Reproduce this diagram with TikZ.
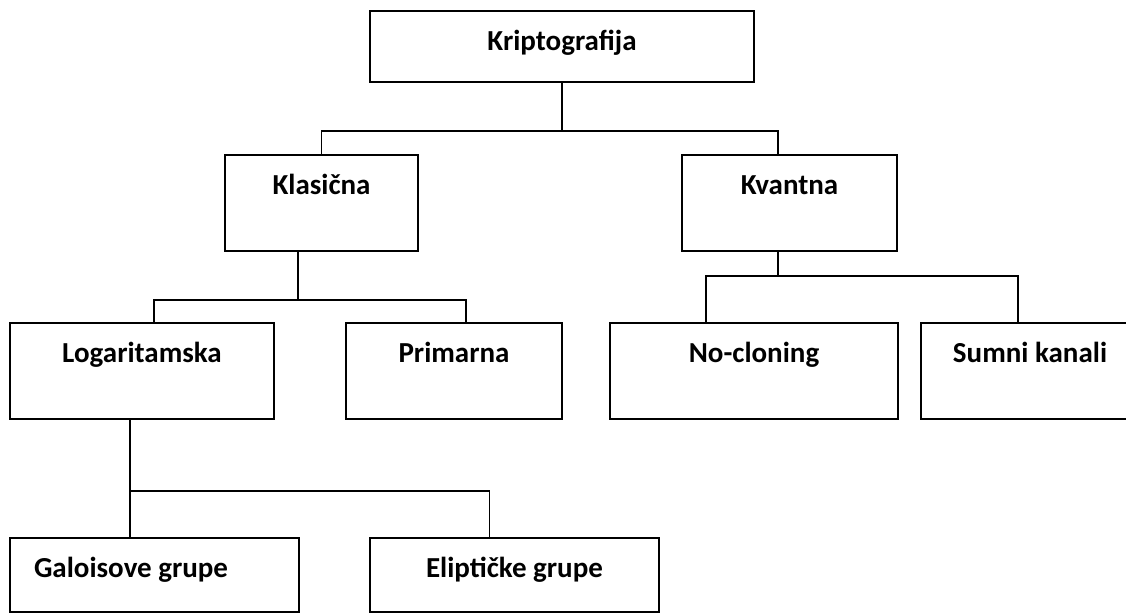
\documentclass[tikz,border=0pt]{standalone}
\usepackage{fontspec}
\setmainfont{Carlito}
\usetikzlibrary{calc}

\tikzset{
  box/.style={draw, line width=1.1pt, anchor=north, inner xsep=2pt, inner ysep=0pt,
    text height=0.80cm, text depth=1.12cm,
    font=\fontsize{16.5}{19}\selectfont\bfseries},
  lowbox/.style={box, text depth=0.68cm},
  topbox/.style={box, text depth=0.62cm},
  conn/.style={line width=1.1pt}
}

\begin{document}
\begin{tikzpicture}
\useasboundingbox (0,0) rectangle (22.52,-12.26);

% boxes
\node[topbox, minimum width=7.68cm] (kripto) at (11.24,-0.20) {Kriptografija};
\node[box, minimum width=3.86cm] (klas) at (6.43,-3.08) {Klasična};
\node[box, minimum width=4.30cm] (kvant) at (15.79,-3.08) {Kvantna};
\node[box, minimum width=5.28cm] (loga) at (2.84,-6.44) {Logaritamska};
\node[box, minimum width=4.32cm] (prim) at (9.08,-6.44) {Primarna};
\node[box, minimum width=5.76cm] (noclon) at (15.08,-6.44) {No-cloning};
\node[box, minimum width=4.36cm] (sumni) at (20.60,-6.44) {Sumni kanali};
\node[lowbox, inner xsep=0.48cm, text width=4.82cm, align=flush left] (galois) at (3.09,-10.74) {Galoisove grupe};
\node[lowbox, minimum width=5.78cm] (elip) at (10.29,-10.74) {Eliptičke grupe};

% connectors
\draw[conn] (kripto.south) -- ++(0,-0.97) coordinate (b1);
\draw[conn] (klas.north) |- (b1) -| ([xshift=-0.23cm]kvant.north);

\draw[conn] ([xshift=-0.47cm]klas.south) -- ++(0,-0.96) coordinate (b2);
\draw[conn] ([xshift=0.24cm]loga.north) |- (b2) -| ([xshift=0.24cm]prim.north);

\draw[conn] ([xshift=-0.23cm]kvant.south) -- ++(0,-0.48) coordinate (b3);
\draw[conn] ([xshift=-0.96cm]noclon.north) |- (b3) -| ([xshift=-0.24cm]sumni.north);

\draw[conn] ([xshift=-0.24cm]loga.south) -- ++(0,-1.42) coordinate (b4);
\draw[conn] ([xshift=-0.49cm]galois.north) -- (b4) -| ([xshift=-0.50cm]elip.north);
\end{tikzpicture}
\end{document}
